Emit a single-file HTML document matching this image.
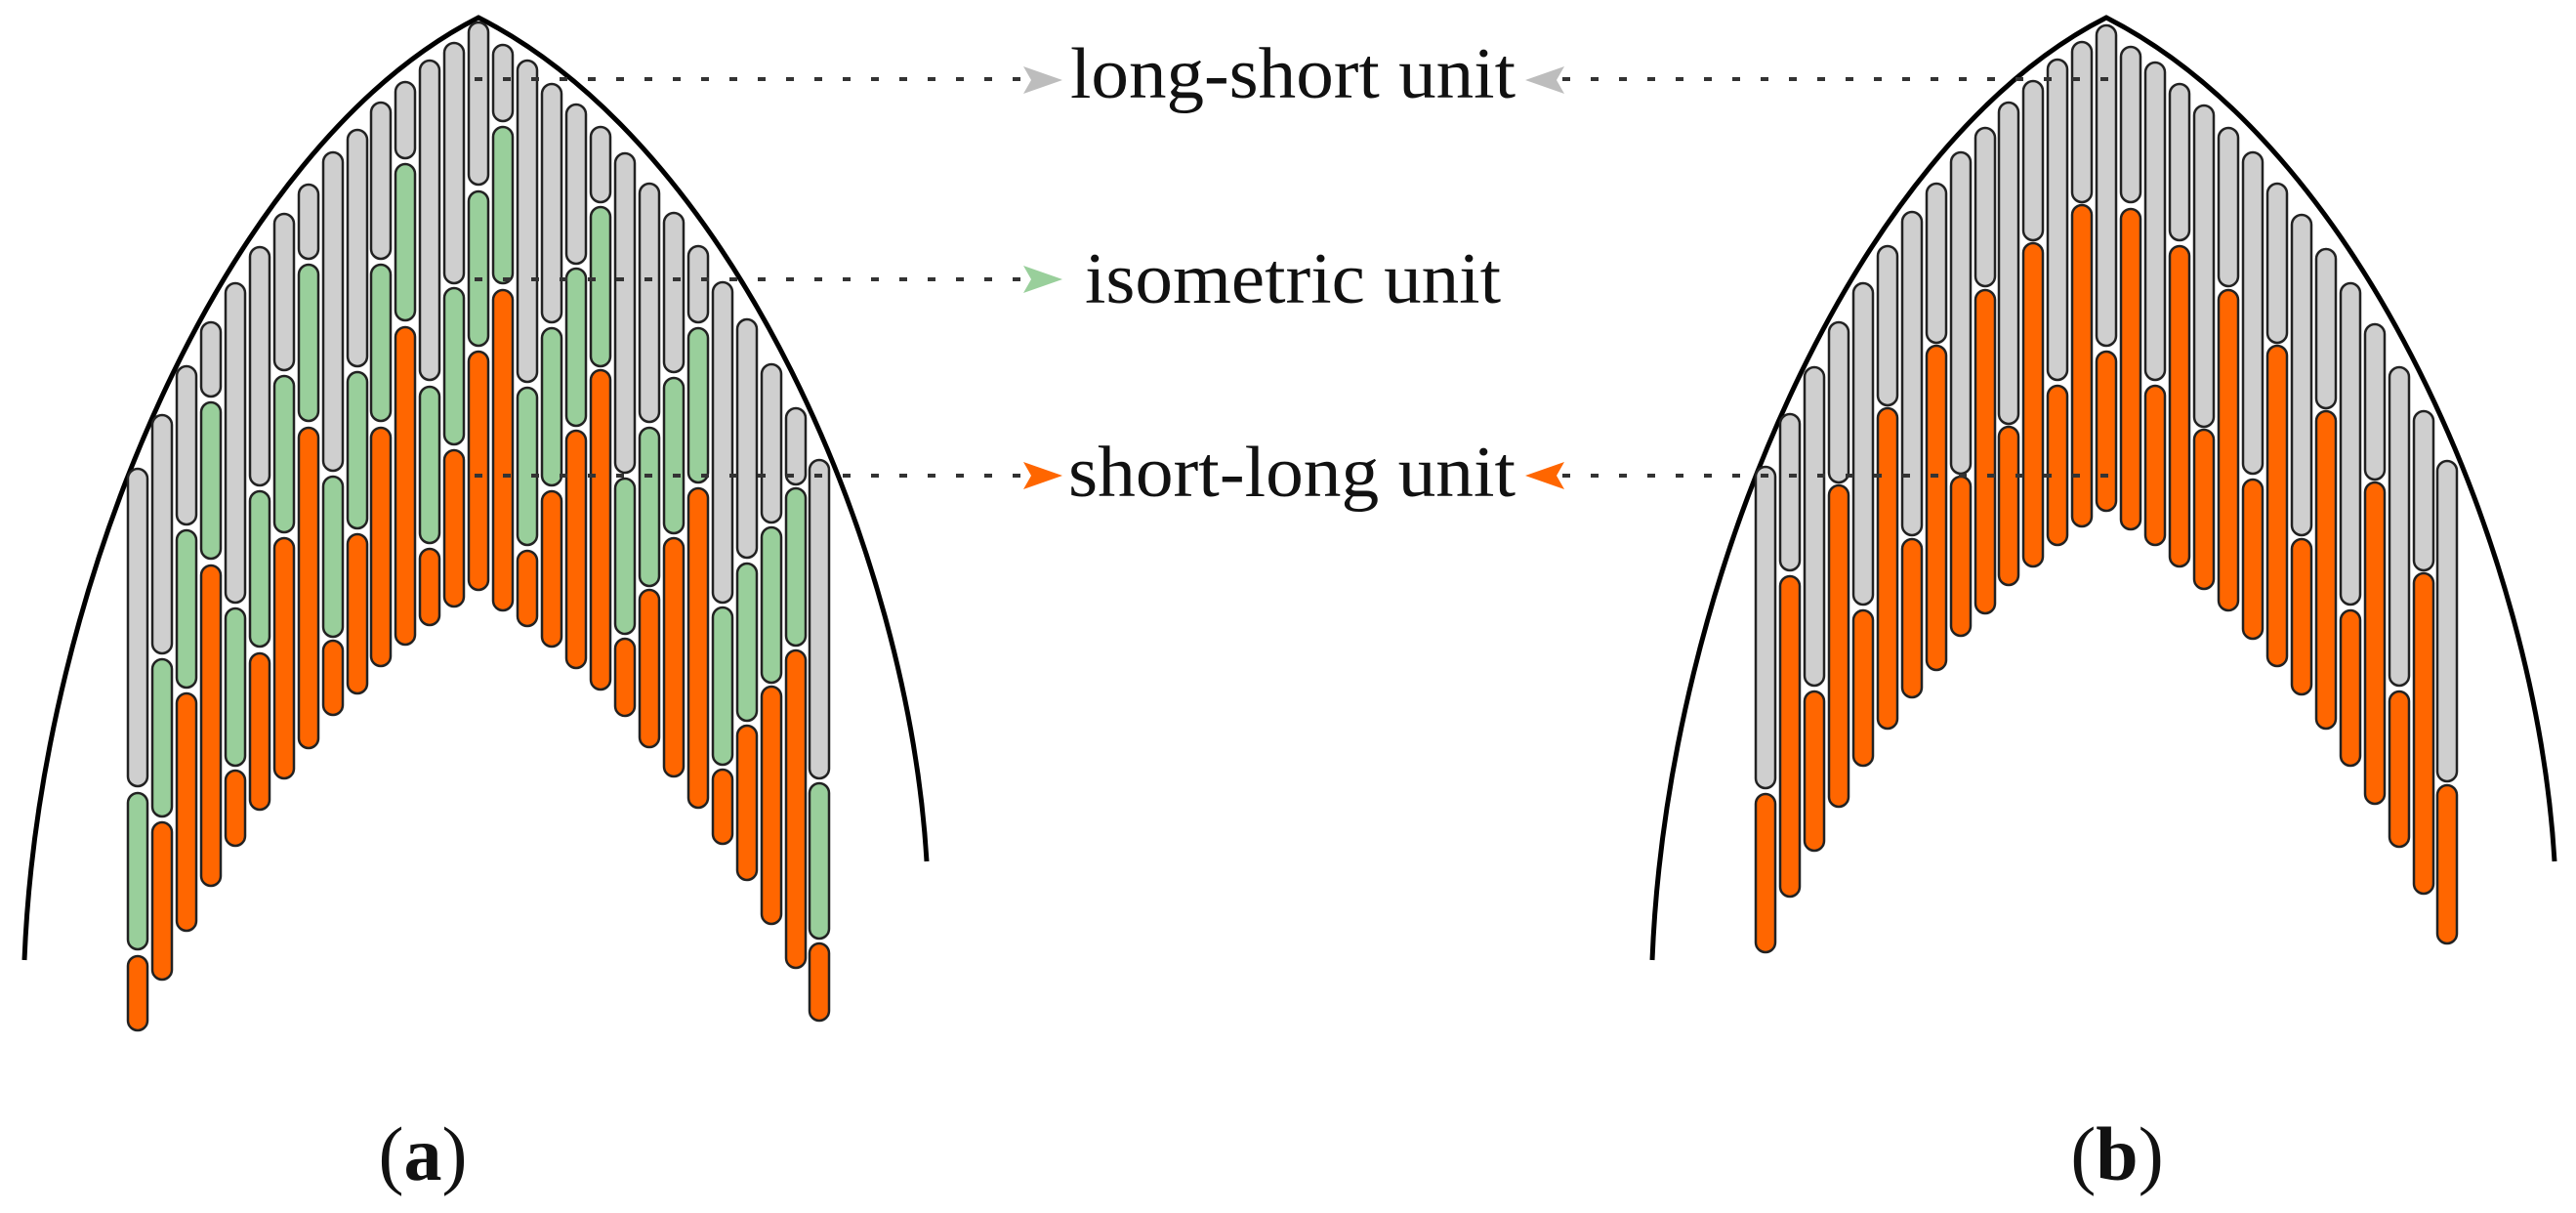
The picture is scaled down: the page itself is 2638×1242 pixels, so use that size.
<!DOCTYPE html>
<html><head><meta charset="utf-8"><style>
html,body{margin:0;padding:0;background:#fff;}
svg{display:block;}
.g{fill:#cfcfcf;stroke:#222;stroke-width:2.5}
.n{fill:#99cf9b;stroke:#222;stroke-width:2.5}
.o{fill:#ff6600;stroke:#222;stroke-width:2.5}
.d{stroke:#333;stroke-width:4;stroke-dasharray:8 21;fill:none}
text{font-family:"Liberation Serif",serif;fill:#111}
</style></head><body>
<svg width="2638" height="1242" viewBox="0 0 2638 1242" xmlns="http://www.w3.org/2000/svg">
<rect width="2638" height="1242" fill="#fff"/>
<!-- arches -->
<path d="M25,983 C40,600 230,150 490,18 C750,150 930,560 949,882" fill="none" stroke="#000" stroke-width="5"/>
<path d="M1692,983 C1707,600 1897,150 2157,18 C2417,150 2597,560 2616,882" fill="none" stroke="#000" stroke-width="5"/>
<g>
<!-- left figure -->
<rect class="g" x="131" y="480" width="20" height="325" rx="10"/><rect class="n" x="131" y="812" width="20" height="160" rx="10"/><rect class="o" x="131" y="979" width="20" height="76" rx="10"/>
<rect class="g" x="156" y="425" width="20" height="244" rx="10"/><rect class="n" x="156" y="675" width="20" height="161" rx="10"/><rect class="o" x="156" y="842" width="20" height="161" rx="10"/>
<rect class="g" x="181" y="375" width="20" height="162" rx="10"/><rect class="n" x="181" y="543" width="20" height="161" rx="10"/><rect class="o" x="181" y="710" width="20" height="243" rx="10"/>
<rect class="g" x="206" y="330" width="20" height="76" rx="10"/><rect class="n" x="206" y="412" width="20" height="160" rx="10"/><rect class="o" x="206" y="579" width="20" height="328" rx="10"/>
<rect class="g" x="231" y="290" width="20" height="327" rx="10"/><rect class="n" x="231" y="623" width="20" height="161" rx="10"/><rect class="o" x="231" y="789" width="20" height="77" rx="10"/>
<rect class="g" x="256" y="253" width="20" height="244" rx="10"/><rect class="n" x="256" y="503" width="20" height="159" rx="10"/><rect class="o" x="256" y="669" width="20" height="160" rx="10"/>
<rect class="g" x="281" y="219" width="20" height="160" rx="10"/><rect class="n" x="281" y="385" width="20" height="160" rx="10"/><rect class="o" x="281" y="551" width="20" height="246" rx="10"/>
<rect class="g" x="306" y="189" width="20" height="76" rx="10"/><rect class="n" x="306" y="271" width="20" height="160" rx="10"/><rect class="o" x="306" y="438" width="20" height="328" rx="10"/>
<rect class="g" x="331" y="156" width="20" height="326" rx="10"/><rect class="n" x="331" y="488" width="20" height="164" rx="10"/><rect class="o" x="331" y="656" width="20" height="76" rx="10"/>
<rect class="g" x="356" y="133" width="20" height="242" rx="10"/><rect class="n" x="356" y="381" width="20" height="160" rx="10"/><rect class="o" x="356" y="547" width="20" height="163" rx="10"/>
<rect class="g" x="380" y="105" width="20" height="160" rx="10"/><rect class="n" x="380" y="271" width="20" height="160" rx="10"/><rect class="o" x="380" y="438" width="20" height="244" rx="10"/>
<rect class="g" x="405" y="84" width="20" height="78" rx="10"/><rect class="n" x="405" y="168" width="20" height="160" rx="10"/><rect class="o" x="405" y="335" width="20" height="325" rx="10"/>
<rect class="g" x="430" y="62" width="20" height="327" rx="10"/><rect class="n" x="430" y="396" width="20" height="160" rx="10"/><rect class="o" x="430" y="562" width="20" height="78" rx="10"/>
<rect class="g" x="455" y="44" width="20" height="246" rx="10"/><rect class="n" x="455" y="295" width="20" height="160" rx="10"/><rect class="o" x="455" y="461" width="20" height="160" rx="10"/>
<rect class="g" x="480" y="23" width="20" height="166" rx="10"/><rect class="n" x="480" y="196" width="20" height="158" rx="10"/><rect class="o" x="480" y="360" width="20" height="244" rx="10"/>
<rect class="g" x="505" y="46" width="20" height="78" rx="10"/><rect class="n" x="505" y="130" width="20" height="160" rx="10"/><rect class="o" x="505" y="297" width="20" height="328" rx="10"/>
<rect class="g" x="530" y="62" width="20" height="329" rx="10"/><rect class="n" x="530" y="397" width="20" height="161" rx="10"/><rect class="o" x="530" y="564" width="20" height="77" rx="10"/>
<rect class="g" x="555" y="86" width="20" height="244" rx="10"/><rect class="n" x="555" y="336" width="20" height="161" rx="10"/><rect class="o" x="555" y="503" width="20" height="159" rx="10"/>
<rect class="g" x="580" y="107" width="20" height="163" rx="10"/><rect class="n" x="580" y="275" width="20" height="161" rx="10"/><rect class="o" x="580" y="441" width="20" height="243" rx="10"/>
<rect class="g" x="605" y="130" width="20" height="77" rx="10"/><rect class="n" x="605" y="212" width="20" height="163" rx="10"/><rect class="o" x="605" y="379" width="20" height="327" rx="10"/>
<rect class="g" x="630" y="157" width="20" height="327" rx="10"/><rect class="n" x="630" y="490" width="20" height="159" rx="10"/><rect class="o" x="630" y="654" width="20" height="79" rx="10"/>
<rect class="g" x="655" y="188" width="20" height="244" rx="10"/><rect class="n" x="655" y="438" width="20" height="162" rx="10"/><rect class="o" x="655" y="604" width="20" height="161" rx="10"/>
<rect class="g" x="680" y="218" width="20" height="163" rx="10"/><rect class="n" x="680" y="387" width="20" height="159" rx="10"/><rect class="o" x="680" y="551" width="20" height="244" rx="10"/>
<rect class="g" x="705" y="252" width="20" height="78" rx="10"/><rect class="n" x="705" y="336" width="20" height="158" rx="10"/><rect class="o" x="705" y="500" width="20" height="327" rx="10"/>
<rect class="g" x="730" y="289" width="20" height="328" rx="10"/><rect class="n" x="730" y="622" width="20" height="161" rx="10"/><rect class="o" x="730" y="788" width="20" height="76" rx="10"/>
<rect class="g" x="755" y="327" width="20" height="244" rx="10"/><rect class="n" x="755" y="577" width="20" height="161" rx="10"/><rect class="o" x="755" y="743" width="20" height="158" rx="10"/>
<rect class="g" x="780" y="373" width="20" height="162" rx="10"/><rect class="n" x="780" y="540" width="20" height="159" rx="10"/><rect class="o" x="780" y="703" width="20" height="243" rx="10"/>
<rect class="g" x="805" y="418" width="20" height="78" rx="10"/><rect class="n" x="805" y="500" width="20" height="161" rx="10"/><rect class="o" x="805" y="666" width="20" height="325" rx="10"/>
<rect class="g" x="829" y="471" width="20" height="326" rx="10"/><rect class="n" x="829" y="802" width="20" height="159" rx="10"/><rect class="o" x="829" y="966" width="20" height="79" rx="10"/>
<!-- right figure -->
<rect class="g" x="1798" y="478" width="20" height="329" rx="10"/><rect class="o" x="1798" y="813" width="20" height="162" rx="10"/>
<rect class="g" x="1823" y="424" width="20" height="160" rx="10"/><rect class="o" x="1823" y="590" width="20" height="328" rx="10"/>
<rect class="g" x="1848" y="376" width="20" height="326" rx="10"/><rect class="o" x="1848" y="708" width="20" height="163" rx="10"/>
<rect class="g" x="1873" y="330" width="20" height="164" rx="10"/><rect class="o" x="1873" y="497" width="20" height="329" rx="10"/>
<rect class="g" x="1898" y="290" width="20" height="329" rx="10"/><rect class="o" x="1898" y="625" width="20" height="159" rx="10"/>
<rect class="g" x="1923" y="252" width="20" height="163" rx="10"/><rect class="o" x="1923" y="418" width="20" height="328" rx="10"/>
<rect class="g" x="1948" y="217" width="20" height="331" rx="10"/><rect class="o" x="1948" y="552" width="20" height="162" rx="10"/>
<rect class="g" x="1973" y="188" width="20" height="163" rx="10"/><rect class="o" x="1973" y="354" width="20" height="332" rx="10"/>
<rect class="g" x="1998" y="156" width="20" height="329" rx="10"/><rect class="o" x="1998" y="488" width="20" height="163" rx="10"/>
<rect class="g" x="2023" y="131" width="20" height="162" rx="10"/><rect class="o" x="2023" y="297" width="20" height="331" rx="10"/>
<rect class="g" x="2047" y="105" width="20" height="329" rx="10"/><rect class="o" x="2047" y="437" width="20" height="162" rx="10"/>
<rect class="g" x="2072" y="83" width="20" height="163" rx="10"/><rect class="o" x="2072" y="249" width="20" height="331" rx="10"/>
<rect class="g" x="2097" y="61" width="20" height="328" rx="10"/><rect class="o" x="2097" y="395" width="20" height="163" rx="10"/>
<rect class="g" x="2122" y="43" width="20" height="164" rx="10"/><rect class="o" x="2122" y="210" width="20" height="329" rx="10"/>
<rect class="g" x="2147" y="26" width="20" height="328" rx="10"/><rect class="o" x="2147" y="360" width="20" height="163" rx="10"/>
<rect class="g" x="2172" y="48" width="20" height="159" rx="10"/><rect class="o" x="2172" y="214" width="20" height="328" rx="10"/>
<rect class="g" x="2197" y="64" width="20" height="325" rx="10"/><rect class="o" x="2197" y="395" width="20" height="163" rx="10"/>
<rect class="g" x="2222" y="86" width="20" height="160" rx="10"/><rect class="o" x="2222" y="252" width="20" height="328" rx="10"/>
<rect class="g" x="2247" y="108" width="20" height="329" rx="10"/><rect class="o" x="2247" y="440" width="20" height="163" rx="10"/>
<rect class="g" x="2272" y="131" width="20" height="162" rx="10"/><rect class="o" x="2272" y="297" width="20" height="328" rx="10"/>
<rect class="g" x="2297" y="156" width="20" height="329" rx="10"/><rect class="o" x="2297" y="491" width="20" height="163" rx="10"/>
<rect class="g" x="2322" y="188" width="20" height="163" rx="10"/><rect class="o" x="2322" y="354" width="20" height="328" rx="10"/>
<rect class="g" x="2347" y="220" width="20" height="328" rx="10"/><rect class="o" x="2347" y="552" width="20" height="159" rx="10"/>
<rect class="g" x="2372" y="255" width="20" height="163" rx="10"/><rect class="o" x="2372" y="421" width="20" height="325" rx="10"/>
<rect class="g" x="2397" y="290" width="20" height="329" rx="10"/><rect class="o" x="2397" y="625" width="20" height="159" rx="10"/>
<rect class="g" x="2422" y="332" width="20" height="159" rx="10"/><rect class="o" x="2422" y="494" width="20" height="329" rx="10"/>
<rect class="g" x="2447" y="376" width="20" height="326" rx="10"/><rect class="o" x="2447" y="708" width="20" height="159" rx="10"/>
<rect class="g" x="2472" y="421" width="20" height="163" rx="10"/><rect class="o" x="2472" y="587" width="20" height="328" rx="10"/>
<rect class="g" x="2496" y="472" width="20" height="328" rx="10"/><rect class="o" x="2496" y="804" width="20" height="162" rx="10"/>
</g>
<!-- dotted leader lines -->
<line class="d" x1="486" y1="81" x2="1050" y2="81"/>
<line class="d" x1="486" y1="286" x2="1050" y2="286"/>
<line class="d" x1="486" y1="487" x2="1050" y2="487"/>
<line class="d" x1="1600" y1="81" x2="2160" y2="81"/>
<line class="d" x1="1600" y1="487" x2="2160" y2="487"/>
<!-- arrowheads -->
<polygon points="1048,68 1088,82 1048,96 1056,82" fill="#bdbdbd"/>
<polygon points="1048,272 1088,286 1048,300 1056,286" fill="#99cf9b"/>
<polygon points="1048,473 1088,487 1048,501 1056,487" fill="#ff6600"/>
<polygon points="1602,68 1562,82 1602,96 1594,82" fill="#bdbdbd"/>
<polygon points="1602,473 1562,487 1602,501 1594,487" fill="#ff6600"/>
<!-- labels -->
<text x="1096" y="100" font-size="74" textLength="456" lengthAdjust="spacingAndGlyphs">long-short unit</text>
<text x="1111" y="310" font-size="74" textLength="426" lengthAdjust="spacingAndGlyphs">isometric unit</text>
<text x="1094" y="508" font-size="74" textLength="458" lengthAdjust="spacingAndGlyphs">short-long unit</text>
<text x="433" y="1208" font-size="78" text-anchor="middle">(<tspan font-weight="bold">a</tspan>)</text>
<text x="2168" y="1208" font-size="78" text-anchor="middle">(<tspan font-weight="bold">b</tspan>)</text>
</svg>
</body></html>
